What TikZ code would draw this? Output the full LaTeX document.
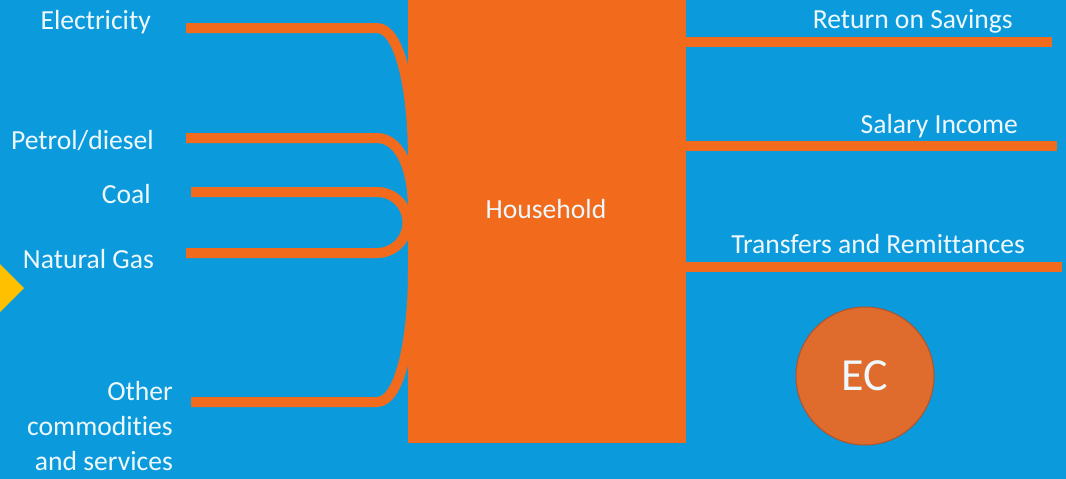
\documentclass[tikz,border=0pt]{standalone}
\usepackage{fontspec}
\setmainfont[Ligatures=NoCommon]{Carlito}
\definecolor{bg}{HTML}{0B9BDC}
\definecolor{org}{HTML}{F26A1B}
\definecolor{ecfill}{HTML}{DF6B2D}
\definecolor{ecdraw}{HTML}{B0532A}
\definecolor{dia}{HTML}{FFC000}
\definecolor{txt}{HTML}{EEF8FD}
\begin{document}
\begin{tikzpicture}[x=1pt,y=-1pt,
  pipe/.style={draw=org,line width=10pt},
  lbl/.style={text=txt,font=\fontsize{27.6}{35}\selectfont,inner sep=0pt},
  lblr/.style={lbl,anchor=base east},
  lbll/.style={lbl,anchor=base east,align=right}]
\fill[bg] (0,0) rectangle (1066,479);
\useasboundingbox (0,0) rectangle (1066,479);
% partial diamond at left edge
\fill[dia] (-4,260) -- (24,288) -- (-4,316) -- (-32,288) -- cycle;
% household box
\node[fill=org,minimum width=278pt,minimum height=443pt,inner sep=0pt,anchor=north west] (hh) at (408,0) {};
\node[lbl,anchor=base] (hhl) at (546,218) {Household};
% free ends of pipes
\coordinate (e0) at (186,28);
\coordinate (p0) at (186,138);
\coordinate (c0) at (191,192);
\coordinate (o0) at (191,402);
\coordinate (r1) at (1052,42);
\coordinate (s1) at (1057,146);
\coordinate (t1) at (1062,267);
% left pipes
\draw[pipe] (e0) -- (377,28) .. controls (400,28) and (413,90) .. (413,160);
\draw[pipe] (p0) -- (377,138) .. controls (398,138) and (413,165) .. (413,210);
\draw[pipe] (c0) -- (377,192) arc[start angle=-90,end angle=90,radius=30.5] -- (186,253);
\draw[pipe] (o0) -- (377,402) .. controls (400,402) and (413,340) .. (413,270);
% right pipes
\draw[pipe] (hh.north east |- r1) ++(-5,0) -- (r1);
\draw[pipe] (hh.north east |- s1) ++(-5,0) -- (s1);
\draw[pipe] (hh.north east |- t1) ++(-5,0) -- (t1);
% labels
\node[lblr] (le) at (151,29) {Electricity};
\node[lblr] (lp) at (154,149) {Petrol/diesel};
\node[lblr] (lc) at (151,203) {Coal};
\node[lblr] (lg) at (154,268) {Natural Gas};
\node[lbll] (lo) at (173,470) {Other\\commodities\\and services};
\node[lblr] (lr) at (1013,28) {Return on Savings};
\node[lblr] (ls) at (1018,133) {Salary Income};
\node[lblr] (lt) at (1025,253) {Transfers and Remittances};
% EC circle
\node[circle,fill=ecfill,draw=ecdraw,line width=1pt,minimum size=138pt,inner sep=0pt,text=txt,font=\fontsize{46}{50}\selectfont] (ec) at (865,376) {EC};
\end{tikzpicture}
\end{document}
